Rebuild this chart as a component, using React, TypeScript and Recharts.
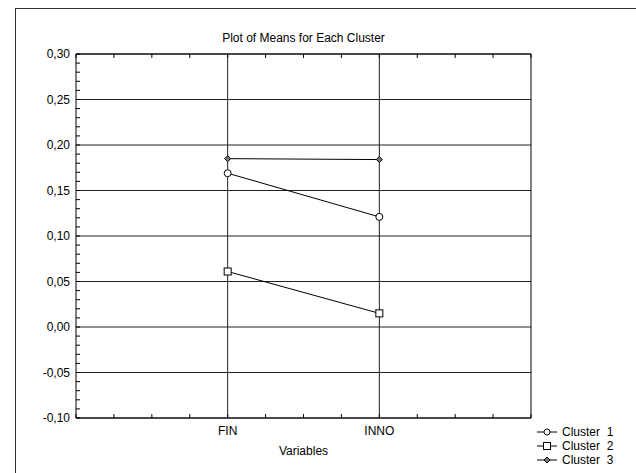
import React from "react";
import {
  LineChart,
  Line,
  XAxis,
  YAxis,
  CartesianGrid,
} from "recharts";

// 变量（横轴类别）及各聚类均值
const variables = ["FIN", "INNO"];
const cluster1 = [0.169, 0.121];
const cluster2 = [0.061, 0.015];
const cluster3 = [0.185, 0.184];

const yMajorTicks = [-0.1, -0.05, 0, 0.05, 0.1, 0.15, 0.2, 0.25, 0.3];
const yMinorTicks = Array.from({ length: 41 }, (_, i) => Math.round((-0.1 + i * 0.01) * 100) / 100);
const xTicks = Array.from({ length: 13 }, (_, i) => i * 0.25);
const xPositions = [1, 2];

const data = variables.map((v, i) => ({
  x: xPositions[i],
  name: v,
  c1: cluster1[i],
  c2: cluster2[i],
  c3: cluster3[i],
}));

const FONT = '"Liberation Sans", Arial, sans-serif';

const isMajor = (v: number) => Math.abs(v * 20 - Math.round(v * 20)) < 1e-6;
const fmtY = (v: number) => (isMajor(v) ? v.toFixed(2).replace(".", ",") : "");
const fmtX = (v: number) => {
  const idx = xPositions.indexOf(v);
  return idx >= 0 ? variables[idx] : "";
};

const CircleDot = (p: any) => (
  <circle key={p.index} cx={p.cx} cy={p.cy} r={3.5} fill="#fff" stroke="#000" strokeWidth={1} />
);
const SquareDot = (p: any) => (
  <rect key={p.index} x={p.cx - 3.5} y={p.cy - 3.5} width={7} height={7} fill="#fff" stroke="#000" strokeWidth={1} />
);
const DiamondDot = (p: any) => (
  <path
    key={p.index}
    d={`M${p.cx},${p.cy - 3} L${p.cx + 3},${p.cy} L${p.cx},${p.cy + 3} L${p.cx - 3},${p.cy} Z`}
    fill="#777"
    stroke="#000"
    strokeWidth={1}
  />
);

function LegendIcon({ kind }: { kind: number }) {
  return (
    <svg width={20} height={10} style={{ display: "block" }}>
      <line x1={0} y1={5} x2={20} y2={5} stroke="#000" strokeWidth={1} />
      {kind === 1 && <circle cx={10} cy={5} r={3} fill="#fff" stroke="#000" />}
      {kind === 2 && <rect x={6.5} y={1.5} width={7} height={7} fill="#fff" stroke="#000" />}
      {kind === 3 && <path d="M10,2 L13,5 L10,8 L7,5 Z" fill="#777" stroke="#000" />}
    </svg>
  );
}

export default function App() {
  const axisStroke = { stroke: "#000", strokeWidth: 1 };
  const tickStyle = { fill: "#000", fontSize: 12, fontFamily: FONT };
  return (
    <div style={{ position: "absolute", left: 0, top: 0, width: 636, height: 473, background: "#fff", fontFamily: FONT }}>
      {/* outer frame */}
      <div style={{ position: "absolute", left: 15, top: 8, right: 0, bottom: 0, borderTop: "1px solid #333", borderLeft: "1px solid #333" }} />
      <div style={{ position: "absolute", left: 0, width: 607, top: 31, textAlign: "center", fontSize: 12, color: "#000" }}>
        Plot of Means for Each Cluster
      </div>
      <div style={{ position: "absolute", left: 0, width: 607, top: 444, textAlign: "center", fontSize: 12, color: "#000" }}>
        Variables
      </div>
      <LineChart
        width={636}
        height={473}
        data={data}
        margin={{ top: 50, right: 100, bottom: 25, left: 16 }}
        style={{ position: "absolute", left: 0, top: 0 }}
      >
        <CartesianGrid
          xAxisId="bottom"
          yAxisId="left"
          horizontalValues={yMajorTicks}
          verticalValues={xPositions}
          stroke="#222"
          strokeWidth={1}
        />
        <XAxis
          xAxisId="bottom"
          dataKey="x"
          type="number"
          domain={[0, 3]}
          ticks={xTicks}
          interval={0}
          height={30}
          tickSize={-4}
          tickMargin={12}
          tickFormatter={fmtX}
          axisLine={axisStroke}
          tickLine={axisStroke}
          tick={tickStyle}
        />
        <XAxis
          xAxisId="top"
          orientation="top"
          dataKey="x"
          type="number"
          domain={[0, 3]}
          ticks={xTicks}
          interval={0}
          height={4}
          tickSize={-4}
          tickFormatter={() => ""}
          axisLine={axisStroke}
          tickLine={axisStroke}
        />
        <YAxis
          yAxisId="left"
          type="number"
          domain={[-0.1, 0.3]}
          ticks={yMinorTicks}
          interval={0}
          width={60}
          tickSize={-4}
          tickMargin={10}
          tickFormatter={fmtY}
          axisLine={axisStroke}
          tickLine={axisStroke}
          tick={tickStyle}
        />
        <YAxis
          yAxisId="right"
          orientation="right"
          type="number"
          domain={[-0.1, 0.3]}
          ticks={yMinorTicks}
          interval={0}
          width={5}
          tickSize={-4}
          tickFormatter={() => ""}
          axisLine={axisStroke}
          tickLine={axisStroke}
        />
        <Line xAxisId="bottom" yAxisId="left" type="linear" dataKey="c1" stroke="#000" strokeWidth={1} dot={CircleDot} isAnimationActive={false} />
        <Line xAxisId="bottom" yAxisId="left" type="linear" dataKey="c2" stroke="#000" strokeWidth={1} dot={SquareDot} isAnimationActive={false} />
        <Line xAxisId="bottom" yAxisId="left" type="linear" dataKey="c3" stroke="#000" strokeWidth={1} dot={DiamondDot} isAnimationActive={false} />
      </LineChart>
      {/* legend */}
      <div style={{ position: "absolute", left: 537, top: 425, fontSize: 12, color: "#000", lineHeight: "14px" }}>
        {[1, 2, 3].map((k) => (
          <div key={k} style={{ display: "flex", alignItems: "center", height: 14 }}>
            <LegendIcon kind={k} />
            <span style={{ marginLeft: 5, whiteSpace: "pre" }}>{`Cluster  ${k}`}</span>
          </div>
        ))}
      </div>
    </div>
  );
}
